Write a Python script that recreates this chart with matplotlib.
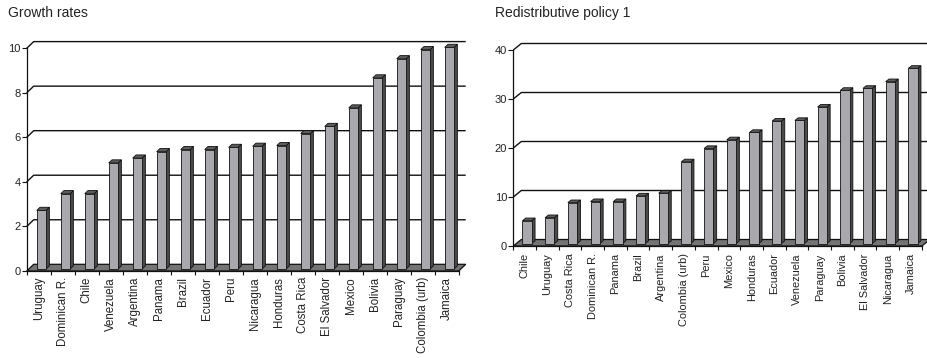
import matplotlib
matplotlib.use("Agg")
import matplotlib.pyplot as plt
from matplotlib.patches import Polygon

plt.rcParams['font.family'] = ['Liberation Sans', 'DejaVu Sans']

# Growth rates by country
growth_countries = ["Uruguay", "Dominican R.", "Chile", "Venezuela", "Argentina", "Panama",
                    "Brazil", "Ecuador", "Peru", "Nicaragua", "Honduras", "Costa Rica",
                    "El Salvador", "Mexico", "Bolivia", "Paraguay", "Colombia (urb)", "Jamaica"]
growth_values = [2.63, 3.38, 3.38, 4.76, 4.98, 5.27, 5.36, 5.36, 5.46, 5.51, 5.54, 6.08,
                 6.40, 7.23, 8.58, 9.44, 9.85, 9.95]
growth_ticks = [0, 2, 4, 6, 8, 10]

# Redistributive policy 1 by country
policy_countries = ["Chile", "Uruguay", "Costa Rica", "Dominican R.", "Panama", "Brazil",
                    "Argentina", "Colombia (urb)", "Peru", "Mexico", "Honduras", "Ecuador",
                    "Venezuela", "Paraguay", "Bolivia", "El Salvador", "Nicaragua", "Jamaica"]
policy_values = [4.66, 5.28, 8.34, 8.55, 8.55, 9.71, 10.27, 16.67, 19.39, 21.17, 22.66, 24.99,
                 25.11, 27.85, 31.25, 31.66, 33.03, 35.75]
policy_ticks = [0, 10, 20, 30, 40]

W, H = 927, 358
fig = plt.figure(figsize=(W / 100, H / 100), dpi=100)

FACE = "#a9a9ad"
SIDE = "#4a4a4a"
TOP = "#5c5c5c"
FLOOR = "#747474"
EDGE = "#111111"
TXT = "#222222"


def column_chart(left_px, zero_px, top_px, width_px, ymax, ticks, cats, vals,
                 depth_px, bar_a, bar_w, f, d, grid_end, cat_size, cat_pad):
    n = len(cats)
    ax = fig.add_axes([left_px / W, (H - zero_px) / H, width_px / W, (zero_px - top_px) / H])
    ax.set_xlim(0, n)
    ax.set_ylim(0, ymax)
    ax.patch.set_visible(False)
    px_x = width_px / n
    px_y = (zero_px - top_px) / ymax
    dx = depth_px[0] / px_x
    dy = depth_px[1] / px_y

    # floor
    ax.add_patch(Polygon([(0, 0), (n, 0), (n + dx, dy), (dx, dy)], closed=True,
                         facecolor=FLOOR, edgecolor=EDGE, lw=0.9, zorder=1, clip_on=False))
    # back-wall gridlines
    for v in ticks[1:]:
        ax.plot([0, dx, grid_end], [v, v + dy, v + dy], color=EDGE, lw=1.0,
                zorder=1.2, clip_on=False, solid_capstyle="butt")

    # 3-D columns
    for i, v in enumerate(vals):
        x0 = i + bar_a + f * dx
        x1 = x0 + bar_w
        y0 = f * dy
        ex, ey = d * dx, d * dy
        ax.add_patch(Polygon([(x1, y0), (x1, y0 + v), (x1 + ex, y0 + v + ey), (x1 + ex, y0 + ey)],
                             closed=True, facecolor=SIDE, edgecolor=EDGE, lw=0.6,
                             zorder=3, clip_on=False))
        ax.add_patch(Polygon([(x0, y0 + v), (x1, y0 + v), (x1 + ex, y0 + v + ey), (x0 + ex, y0 + v + ey)],
                             closed=True, facecolor=TOP, edgecolor=EDGE, lw=0.6,
                             zorder=3, clip_on=False))
        ax.add_patch(Polygon([(x0, y0), (x1, y0), (x1, y0 + v), (x0, y0 + v)],
                             closed=True, facecolor=FACE, edgecolor=EDGE, lw=0.6,
                             zorder=3.1, clip_on=False))

    for s in ("top", "right"):
        ax.spines[s].set_visible(False)
    for s in ("left", "bottom"):
        ax.spines[s].set_color(EDGE)
        ax.spines[s].set_linewidth(0.9)
        ax.spines[s].set_zorder(2)

    ax.set_yticks(ticks)
    ax.set_yticklabels([str(t) for t in ticks])
    ax.tick_params(axis="y", direction="out", length=3.4, width=0.8, pad=1.0,
                   labelsize=8.0, colors=EDGE, labelcolor=TXT)

    ax.set_xticks([i + 0.5 for i in range(n)])
    ax.set_xticklabels(cats, rotation=90, va="top", ha="center")
    ax.set_xticks(range(n + 1), minor=True)
    ax.tick_params(axis="x", which="major", length=0, pad=cat_pad, labelsize=cat_size,
                   labelcolor=TXT)
    ax.tick_params(axis="x", which="minor", direction="out", length=3.2, width=0.8, colors=EDGE)
    return ax


column_chart(26.7, 271.0, 48.3, 432.0, 10, growth_ticks, growth_countries, growth_values,
             (7.0, 6.7), 0.33, 0.39, 0.3, 0.47, 18 + 7.0 / 24.0, 8.3, 4.3)
column_chart(513.3, 246.0, 50.0, 408.6, 40, policy_ticks, policy_countries, policy_values,
             (8.0, 6.5), 0.27, 0.41, 0.38, 0.41, 18 + 8.0 / 22.7, 7.9, 5.3)

fig.text(8 / W, 1 - 16.7 / H, "Growth rates", fontsize=10.0, color=TXT, va="baseline", ha="left")
fig.text(495 / W, 1 - 16.7 / H, "Redistributive policy 1", fontsize=10.0, color=TXT,
         va="baseline", ha="left")

fig.savefig("out.png", dpi=100)
